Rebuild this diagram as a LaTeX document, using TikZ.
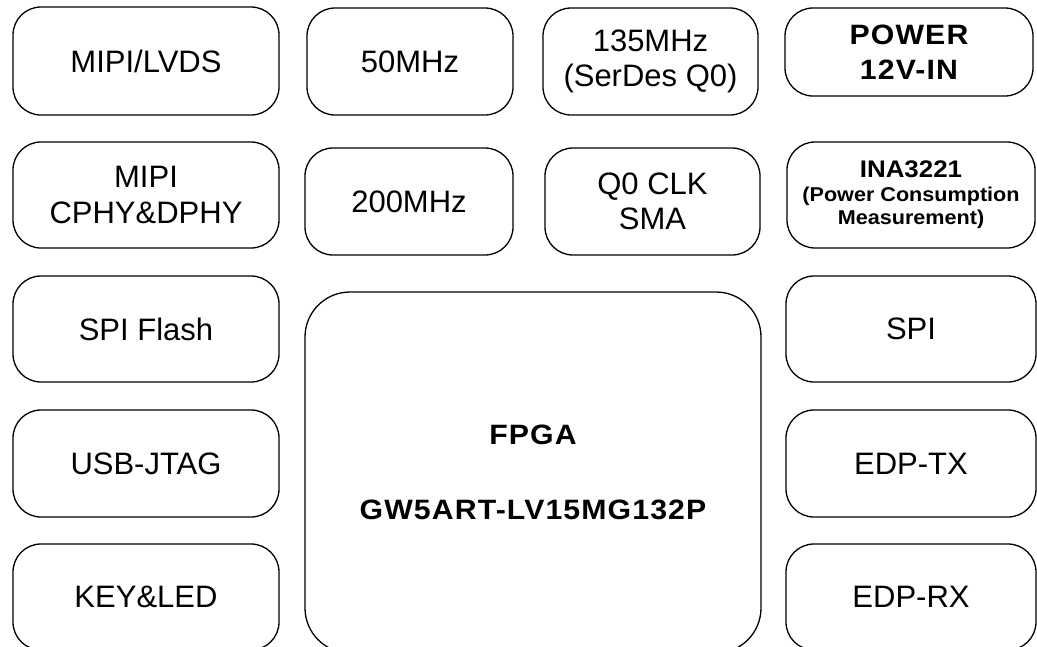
\documentclass[tikz,border=0pt]{standalone}
\usepackage{fontspec}
\setmainfont{Liberation Sans}
\newfontfamily\bsp[LetterSpace=4,FakeStretch=1.08]{Liberation Sans Bold}
\newfontfamily\bst[FakeStretch=1.08]{Liberation Sans Bold}
\begin{document}
\begin{tikzpicture}[x=1pt,y=-1pt,
  blk/.style={draw=black, line width=1.3pt, rounded corners=28pt, align=center, inner sep=0pt,
     font=\fontsize{31}{35.5}\selectfont},
  bold/.style={font=\bsp\fontsize{28}{35}\selectfont},
  small/.style={font=\bst\fontsize{20}{23.5}\selectfont}]
\useasboundingbox (0,0) rectangle (1037,646);
\clip (0,0) rectangle (1037,646);
% row 1
\node[blk, minimum width=266pt, minimum height=108pt] (mipilvds) at (146,61) {MIPI/LVDS};
\node[blk, minimum width=206pt, minimum height=107pt] (f50) at (410,61.5) {50MHz};
\node[blk, minimum width=215pt, minimum height=107pt] (f135) at (650.5,61.5) {135MHz\\(SerDes Q0)};
\node[blk, bold, minimum width=248pt, minimum height=88pt] (power) at (909,52) {POWER\\12V-IN};
% row 2
\node[blk, minimum width=266pt, minimum height=106pt] (mipicphy) at (146,195) {MIPI\\CPHY\&DPHY};
\node[blk, minimum width=208pt, minimum height=107pt] (f200) at (409,201.5) {200MHz};
\node[blk, minimum width=215pt, minimum height=107pt] (q0clk) at (652.5,201.5) {Q0 CLK\\SMA};
\node[blk, small, minimum width=248pt, minimum height=106pt] (ina) at (911,195) {{\fontsize{24}{24}\selectfont INA3221}\\(Power Consumption\\Measurement)};
% left column
\node[blk, minimum width=266pt, minimum height=106pt] (spiflash) at (146,329) {SPI Flash};
\node[blk, minimum width=266pt, minimum height=107pt] (usbjtag) at (146,463.5) {USB-JTAG};
\node[blk, minimum width=266pt, minimum height=106pt] (keyled) at (146,597) {KEY\&LED};
% right column
\node[blk, minimum width=250pt, minimum height=106pt] (spi) at (911,329) {SPI};
\node[blk, minimum width=250pt, minimum height=107pt] (edptx) at (911,463.5) {EDP-TX};
\node[blk, minimum width=250pt, minimum height=106pt] (edprx) at (911,597) {EDP-RX};
% FPGA
\node[blk, bold, rounded corners=45pt, minimum width=456pt, minimum height=361pt] (fpga) at (533,472.5) {FPGA\\[40pt]GW5ART-LV15MG132P};
\end{tikzpicture}
\end{document}
